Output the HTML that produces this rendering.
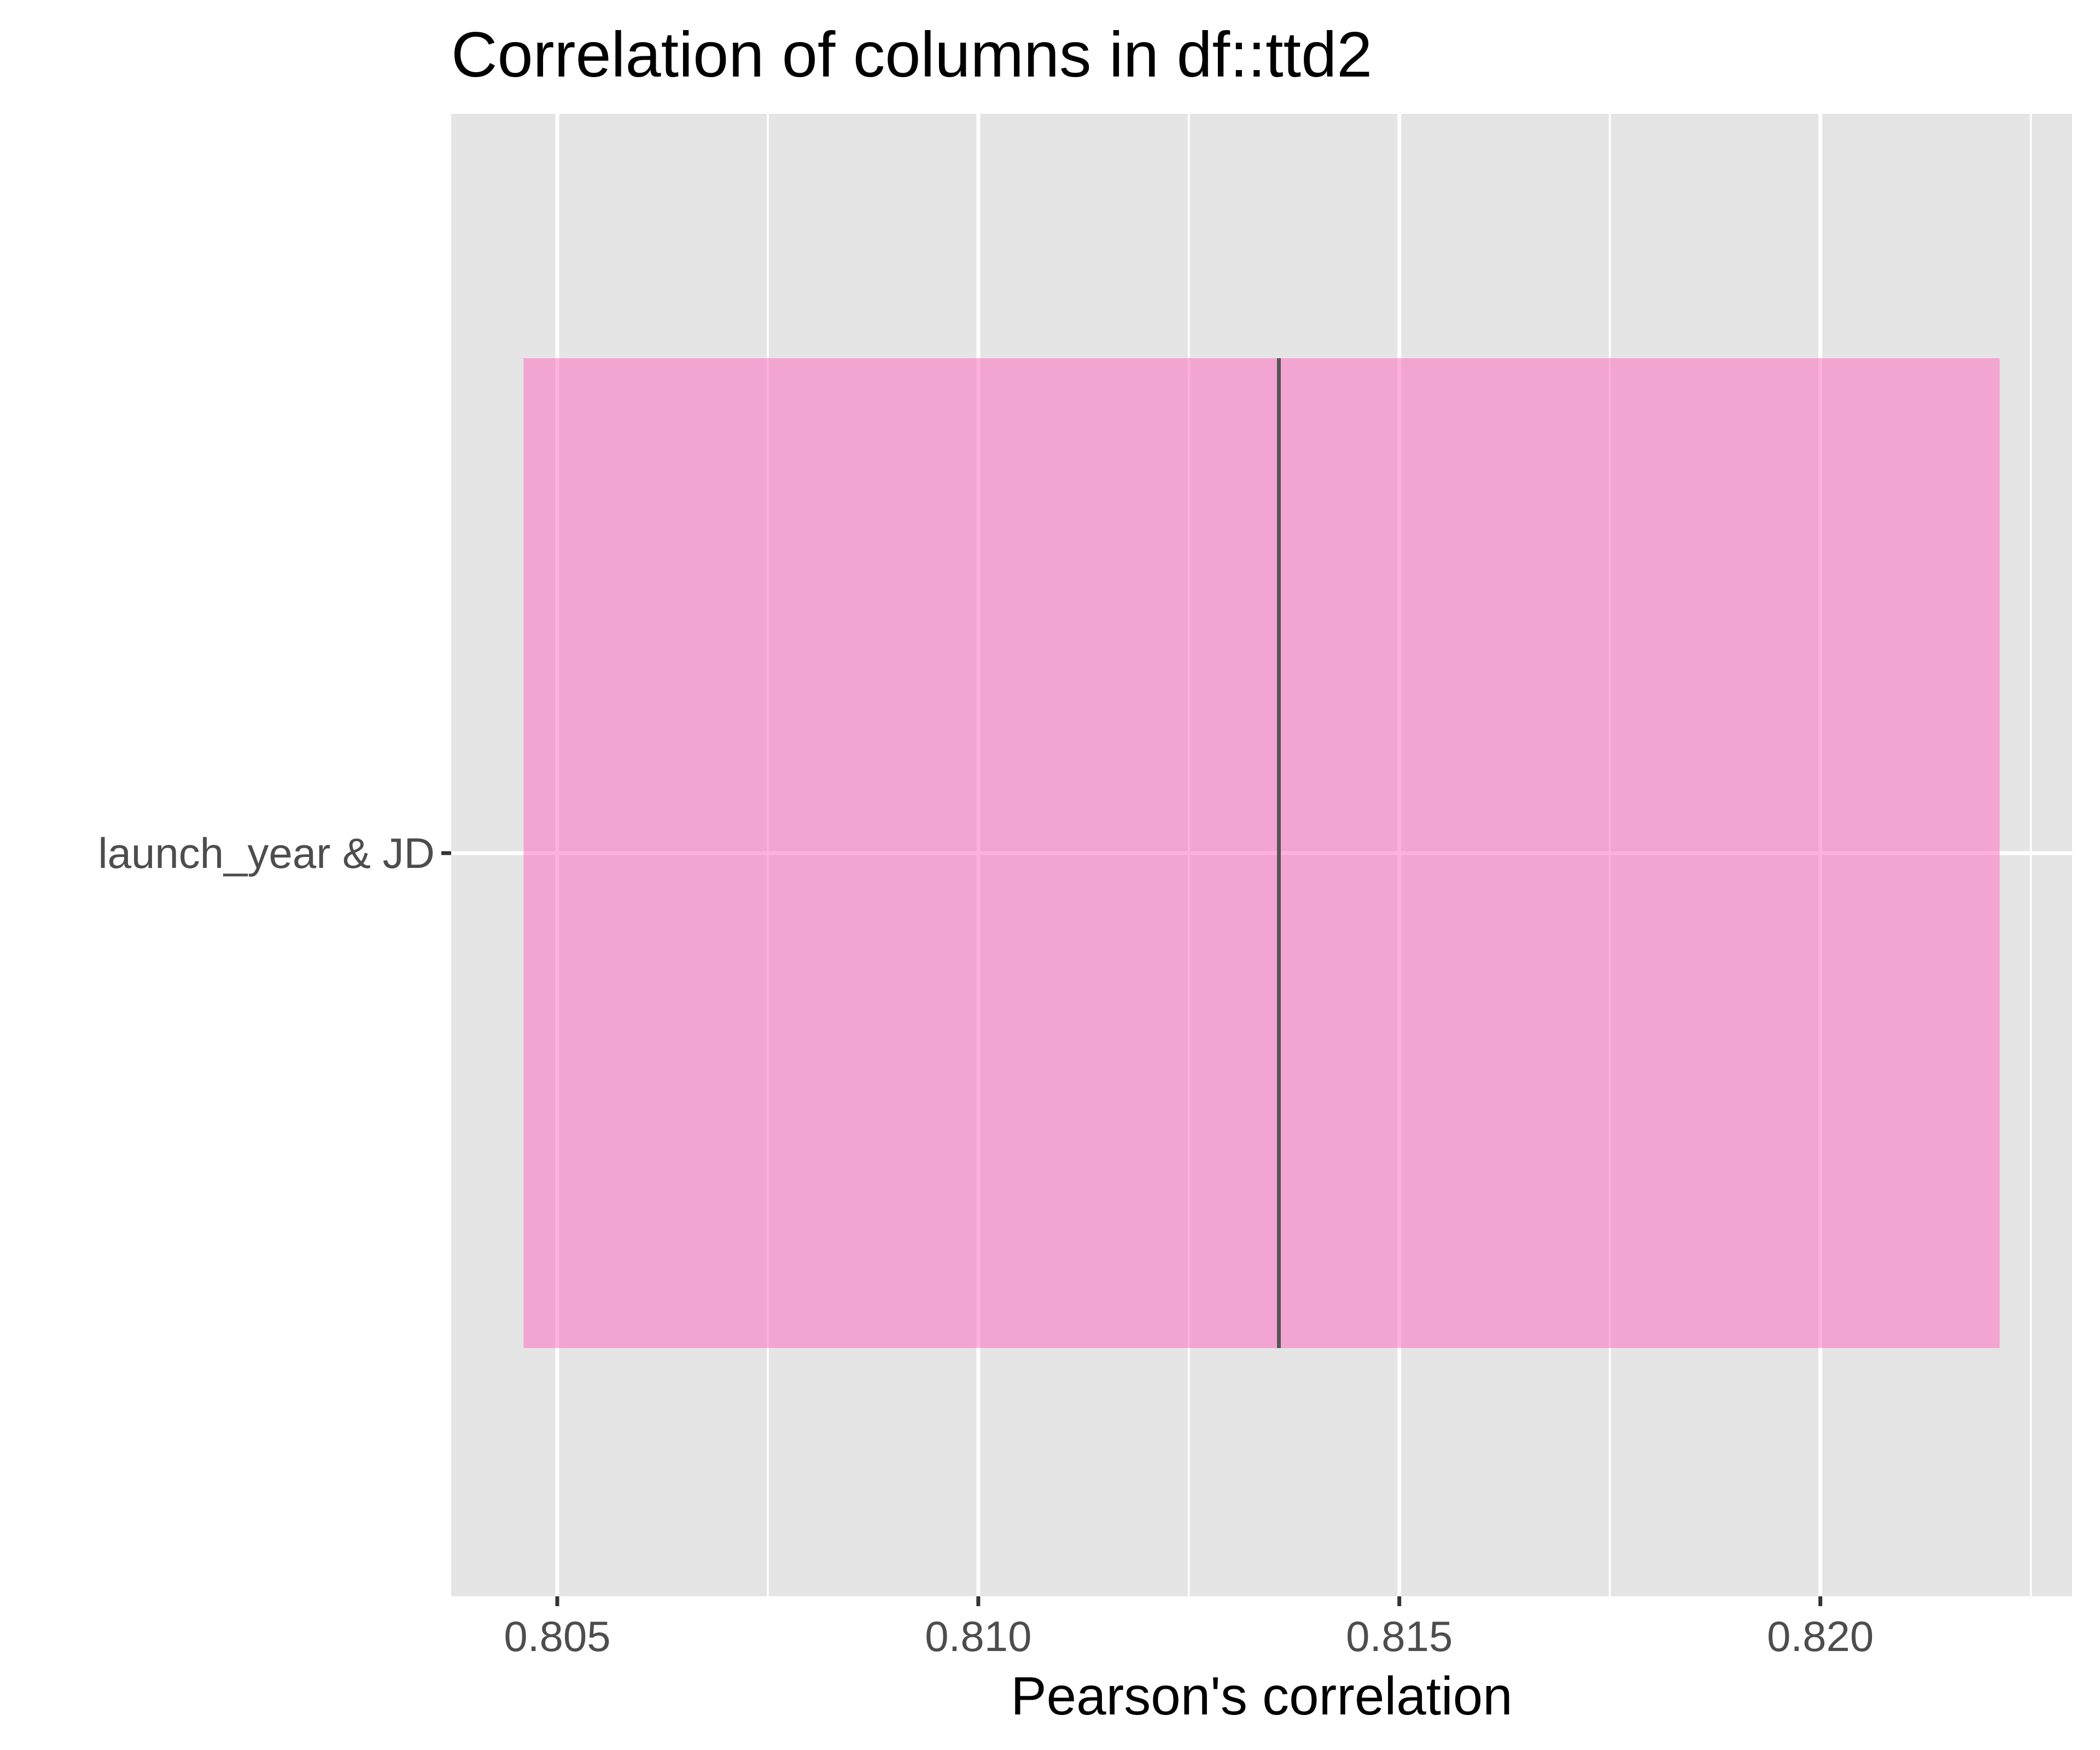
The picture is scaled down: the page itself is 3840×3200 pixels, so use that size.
<!DOCTYPE html>
<html><head><meta charset="utf-8"><style>
html,body{margin:0;padding:0;background:#fff;}
svg{display:block;font-family:"Liberation Sans",Arial,sans-serif;}
</style></head><body>
<svg id="chart" width="3840" height="3200" viewBox="0 0 3840 3200" xmlns="http://www.w3.org/2000/svg">
<rect width="3840" height="3200" fill="#fff"/>
<text x="825" y="140" font-size="117" fill="#000">Correlation of columns in df::ttd2</text>
<rect x="825" y="208" width="2964" height="2711" fill="#E5E5E5"/>
<g id="grid"></g>
<g id="marks"></g>
<g id="axes"></g>
<text x="2307" y="3135" font-size="98" text-anchor="middle" fill="#000">Pearson's correlation</text>
</svg>
<script>
const categories = ["launch_year & JD"];
const lowValues = [0.80460];
const highValues = [0.82213];
const medianValues = [0.81357];
const xTicks = [0.805, 0.810, 0.815, 0.820];
const xTickLabels = ["0.805", "0.810", "0.815", "0.820"];

const NS = "http://www.w3.org/2000/svg";
const panel = {x0: 825, x1: 3789, y0: 208, y1: 2919};
const dom = [0.80374, 0.82299];
function xs(v){ return panel.x0 + (v - dom[0]) / (dom[1] - dom[0]) * (panel.x1 - panel.x0); }
const catY = [1560];
const bandHalf = 905;
function ys(i){ return catY[i]; }
function mk(tag, attrs, parent){ const e = document.createElementNS(NS, tag); for (const k in attrs) e.setAttribute(k, attrs[k]); parent.appendChild(e); return e; }
const grid = document.getElementById('grid'), marks = document.getElementById('marks'), axes = document.getElementById('axes');

for (let i = 0; i < xTicks.length; i++) {
  const m = xTicks[i] + 0.0025;
  if (xs(m) < panel.x1) {
    const l = mk('line', {x1: xs(m), x2: xs(m), y1: panel.y0, y2: panel.y1, stroke: '#fff', 'stroke-width': 3.5}, grid);
    
    
  }
}
xTicks.forEach((t, i) => {
  const l = mk('line', {x1: xs(t), x2: xs(t), y1: panel.y0, y2: panel.y1, stroke: '#fff', 'stroke-width': 7}, grid);
  
  
  const tk = mk('line', {x1: xs(t), x2: xs(t), y1: panel.y1, y2: panel.y1 + 18, stroke: '#333', 'stroke-width': 7}, axes);
  
  
  const tx = mk('text', {x: xs(t), y: panel.y1 + 100, 'font-size': 78, 'text-anchor': 'middle', fill: '#4D4D4D'}, axes);
  tx.textContent = xTickLabels[i];
  
  
});
categories.forEach((c, i) => {
  const l = mk('line', {x1: panel.x0, x2: panel.x1, y1: ys(i), y2: ys(i), stroke: '#fff', 'stroke-width': 7}, grid);
  
  
  const r = mk('rect', {x: xs(lowValues[i]), y: ys(i) - bandHalf, width: xs(highValues[i]) - xs(lowValues[i]), height: 2 * bandHalf, fill: '#FF69C0', 'fill-opacity': 0.52}, marks);
  
  
  const m = mk('line', {x1: xs(medianValues[i]), x2: xs(medianValues[i]), y1: ys(i) - bandHalf, y2: ys(i) + bandHalf, stroke: '#555', 'stroke-width': 7}, marks);
  
  
  const tk = mk('line', {x1: panel.x0 - 18, x2: panel.x0, y1: ys(i), y2: ys(i), stroke: '#333', 'stroke-width': 7}, axes);
  
  
  const tx = mk('text', {x: panel.x0 - 30, y: ys(i) + 27, 'font-size': 78, 'text-anchor': 'end', fill: '#4D4D4D'}, axes);
  tx.textContent = c;
  
  
});
</script>
</body></html>
